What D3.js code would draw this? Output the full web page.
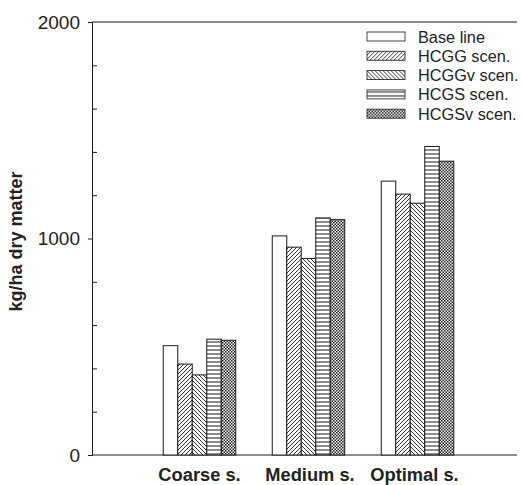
<!DOCTYPE html>
<html><head><meta charset="utf-8">
<script src="https://cdn.jsdelivr.net/npm/d3@7"></script>
<style>body{margin:0;background:#fff}svg{display:block}</style>
</head><body>
<script>
const categories = ["Coarse s.", "Medium s.", "Optimal s."];
const seriesNames = ["Base line", "HCGG scen.", "HCGGv scen.", "HCGS scen.", "HCGSv scen."];
const baseLine = [505, 1012, 1265];
const hcgg = [420, 960, 1205];
const hcggv = [370, 908, 1163];
const hcgs = [535, 1095, 1425];
const hcgsv = [530, 1087, 1357];
const yTicks = [0, 1000, 2000];
const yMinorTicks = [200, 400, 600, 800, 1200, 1400, 1600, 1800];
const series = [baseLine, hcgg, hcggv, hcgs, hcgsv];

(function () {
const W = 522, H = 485;
const svg = d3.select("body").append("svg").attr("width", W).attr("height", H);
const defs = svg.append("defs");
const ink = "#1a1a1a";
const font = "Liberation Sans, Arial, sans-serif";

function pat(id, size, draw) {
  const p = defs.append("pattern").attr("id", id).attr("patternUnits", "userSpaceOnUse")
    .attr("width", size).attr("height", size);
  p.append("rect").attr("width", size).attr("height", size).attr("fill", "#fff");
  draw(p);
}
pat("p1", 4, p => p.append("path").attr("d", "M-1,1 L1,-1 M0,4 L4,0 M3,5 L5,3").attr("stroke", ink).attr("stroke-width", 0.9));
pat("p2", 4, p => p.append("path").attr("d", "M-1,3 L1,5 M0,0 L4,4 M3,-1 L5,1").attr("stroke", ink).attr("stroke-width", 0.9));
pat("p3", 4, p => p.append("path").attr("d", "M0,2 L4,2").attr("stroke", ink).attr("stroke-width", 1));
pat("p4", 3, p => { p.append("rect").attr("x",0).attr("y",0).attr("width",1.5).attr("height",1.5).attr("fill",ink);
                    p.append("rect").attr("x",1.5).attr("y",1.5).attr("width",1.5).attr("height",1.5).attr("fill",ink); });
const fills = ["#fff", "url(#p1)", "url(#p2)", "url(#p3)", "url(#p4)"];

const pl = 92, pr = 517, pt = 22, pb = 455;
const y = d3.scaleLinear().domain([0, 2000]).range([pb, pt]);
const x0 = d3.scaleBand().domain(categories).range([145, 472]).paddingInner(0.33).paddingOuter(0.165);
const barW = 14.5;
const x1 = d3.scaleBand().domain(d3.range(series.length)).range([0, barW * series.length]);
const groupLeft = c => x0(c) + x0.bandwidth() / 2 - barW * series.length / 2;

svg.append("line").attr("x1", pl).attr("x2", pr).attr("y1", pt).attr("y2", pt).attr("stroke", ink).attr("stroke-width", 1);
svg.append("line").attr("x1", pl).attr("x2", pr).attr("y1", pb).attr("y2", pb).attr("stroke", ink).attr("stroke-width", 1);

const g = svg.append("g");
categories.forEach((c, ci) => {
  const cx = groupLeft(c);
  series.forEach((s, si) => {
    g.append("rect").attr("x", cx + x1(si)).attr("y", y(s[ci]))
      .attr("width", x1.bandwidth()).attr("height", y(0) - y(s[ci]))
      .attr("fill", fills[si]).attr("stroke", ink).attr("stroke-width", 1);
  });
});

const ya = svg.append("g").attr("transform", `translate(${pl},0)`)
  .call(d3.axisLeft(y).tickValues(yTicks).tickSize(4).tickPadding(8).tickFormat(d3.format("d")));
ya.selectAll("text").attr("font-family", font).attr("font-size", 19).attr("fill", "#222");
ya.selectAll("line, path").attr("stroke", ink);
const ym = svg.append("g").attr("transform", `translate(${pl},0)`)
  .call(d3.axisRight(y).tickValues(yMinorTicks).tickSize(5).tickFormat(""));
ym.select("path").remove();
ym.selectAll("line").attr("stroke", ink);

const labelPos = [0, 1.5, -3];
categories.forEach((c, ci) => {
  svg.append("text").attr("x", x0(c) + x0.bandwidth() / 2 + labelPos[ci]).attr("y", 481).attr("text-anchor", "middle")
    .attr("font-family", font).attr("font-weight", "bold").attr("font-size", 18.3)
    .attr("fill", "#222").text(c);
});

svg.append("text").attr("transform", `translate(22,${(pt + pb) / 2 + 3}) rotate(-90)`).attr("text-anchor", "middle")
  .attr("font-family", font).attr("font-weight", "bold").attr("font-size", 18)
  .attr("fill", "#222").text("kg/ha dry matter");

const lg = svg.append("g").attr("transform", "translate(367,32)");
seriesNames.forEach((n, i) => {
  const row = lg.append("g").attr("transform", `translate(0,${i * 19.3})`);
  row.append("rect").attr("x", 0).attr("y", 0).attr("width", 38).attr("height", 9)
    .attr("fill", fills[i]).attr("stroke", ink).attr("stroke-width", 0.8);
  row.append("text").attr("x", 51).attr("y", 10.5).attr("font-family", font)
    .attr("font-size", 16.3).attr("fill", "#222").text(n);
});
})();
</script>
</body></html>
